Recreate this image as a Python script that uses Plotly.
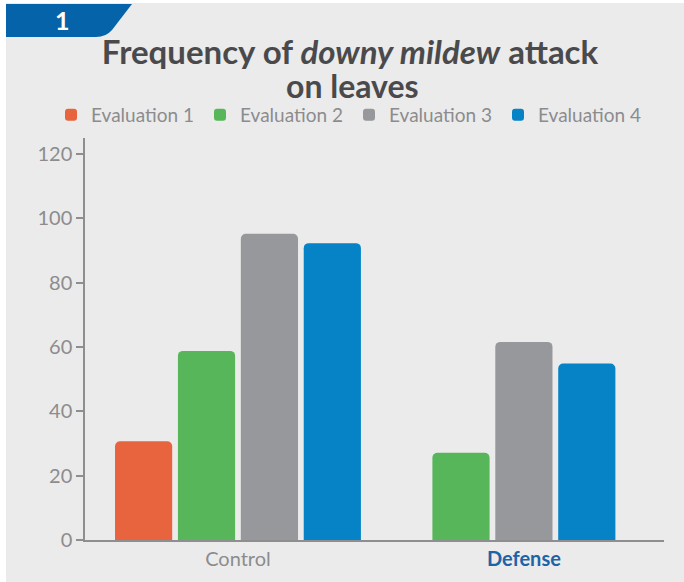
import plotly.graph_objects as go

categories = ["Control", "Defense"]
series_names = ["Evaluation 1", "Evaluation 2", "Evaluation 3", "Evaluation 4"]
eval1 = [30.7, None]
eval2 = [58.8, 27.1]
eval3 = [95.2, 61.6]
eval4 = [92.3, 54.9]
series_values = [eval1, eval2, eval3, eval4]
series_colors = ["#E8643F", "#57B659", "#97989C", "#0583C6"]
y_ticks = [0, 20, 40, 60, 80, 100, 120]
x_tick_labels = ["Control", "<b><span style='color:#1E63A6'>Defense</span></b>"]
title_line1 = "Frequency of <i>downy mildew</i> attack"
title_line2 = "on leaves"

# plot-area geometry (pixels) used for decorations
W, H = 684, 582
ML, MR, MT, MB = 85, 20, 138, 42
PW, PH = W - ML - MR, H - MT - MB


def px(x):
    return (x - ML) / PW


def py(y):
    return (H - MB - y) / PH


BAR_W = 0.2
STEP = 0.22

fig = go.Figure()
for si, (name, vals, col) in enumerate(zip(series_names, series_values, series_colors)):
    offsets = []
    for ci in range(len(categories)):
        present = [k for k in range(len(series_values)) if series_values[k][ci] is not None]
        n = len(present)
        if vals[ci] is None:
            offsets.append(0)
        else:
            k = present.index(si)
            offsets.append((k - (n - 1) / 2) * STEP - BAR_W / 2)
    fig.add_trace(go.Bar(
        x=categories, y=vals, name=name,
        offset=offsets, width=BAR_W,
        marker=dict(color=col, line=dict(width=0)),
        hoverinfo="x+y+name",
    ))

font_main = "Lato, 'Open Sans', sans-serif"
title_color = "#4A4A4C"

# background panel and badge
shapes = [
    dict(type="rect", xref="paper", yref="paper",
         x0=px(6), x1=px(W + 5), y0=py(3), y1=py(H + 5),
         fillcolor="#EBEBEB", line=dict(width=0), layer="below"),
    dict(type="path", xref="paper", yref="paper",
         path=(f"M {px(6)},{py(4)} L {px(132)},{py(4)} "
               f"L {px(112)},{py(30)} Q {px(106)},{py(37)} {px(96)},{py(37)} "
               f"L {px(6)},{py(37)} Z"),
         fillcolor="#0563A9", line=dict(width=0), layer="below"),
]

annotations = [
    dict(text="<b>1</b>", x=px(62), y=py(20), xref="paper", yref="paper",
         showarrow=False, font=dict(family=font_main, size=25, color="white"),
         xanchor="center", yanchor="middle"),
    dict(text=f"<b>{title_line2}</b>", x=px(352), y=py(86), xref="paper", yref="paper",
         showarrow=False, font=dict(family=font_main, size=32, color=title_color),
         xanchor="center", yanchor="middle"),
]

fig.update_layout(
    width=W, height=H,
    margin=dict(l=ML, r=MR, t=MT, b=MB, autoexpand=False),
    paper_bgcolor="white",
    plot_bgcolor="rgba(0,0,0,0)",
    barmode="overlay",
    barcornerradius=5,
    title=dict(
        text=f"<b>{title_line1}</b>",
        x=350 / W, xanchor="center", xref="container",
        y=1 - 52 / H, yanchor="middle", yref="container",
        font=dict(family=font_main, size=33, color=title_color),
    ),
    legend=dict(
        orientation="h", x=px(51), xanchor="left",
        y=py(115), yanchor="middle",
        font=dict(family=font_main, size=19, color="#8C8C8E"),
        bgcolor="rgba(0,0,0,0)",
        entrywidth=104, entrywidthmode="pixels",
        itemclick=False,
    ),
    xaxis=dict(
        type="category", range=[-0.535, 1.49],
        tickvals=categories, ticktext=x_tick_labels,
        showgrid=False, zeroline=False,
        showline=True, linecolor="#8E8E90", linewidth=2,
        ticks="",
        tickfont=dict(family=font_main, size=20, color="#8C8C8E"),
    ),
    yaxis=dict(
        range=[0, 125], tickvals=y_ticks,
        showgrid=False, zeroline=False,
        showline=True, linecolor="#8E8E90", linewidth=1.5,
        ticks="outside", ticklen=7, tickcolor="#8E8E90", tickwidth=1.5,
        tickfont=dict(family=font_main, size=20, color="#8C8C8E"),
    ),
    shapes=shapes,
    annotations=annotations,
)

fig.write_html("out.html")
